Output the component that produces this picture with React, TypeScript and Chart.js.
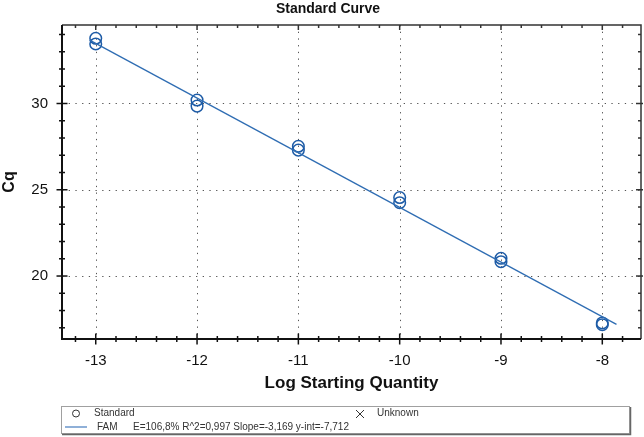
import React, { useEffect, useRef } from "react";
import { Chart, registerables } from "chart.js";

Chart.register(...registerables);

// Standard curve: Cq vs log starting quantity (duplicate standards per dilution)
const logQuantity: number[] = [-13, -13, -12, -12, -11, -11, -10, -10, -9, -9, -8, -8];
const cqValues: number[] = [33.78, 33.45, 30.2, 29.85, 27.52, 27.3, 24.55, 24.25, 21.03, 20.83, 17.28, 17.18];

// Fit reported by the instrument
const fitSlope = -3.169;
const fitIntercept = -7.712;
const fitRange: number[] = [-13.06, -7.86];

const xTickValues: number[] = [-13, -12, -11, -10, -9, -8];
const yTickValues: number[] = [20, 25, 30];
const xMinorStep = 0.2;
const yMinorStep = 1;

const chartTitle = "Standard Curve";
const xTitle = "Log Starting Quantity";
const yTitle = "Cq";
const legendStandard = "Standard";
const legendUnknown = "Unknown";
const legendSeries = "FAM";
const legendStats = "E=106,8% R^2=0,997 Slope=-3,169 y-int=-7,712";

const FONT = "'Liberation Sans', Arial, sans-serif";

const framePlugin = {
  id: "frame",
  beforeDatasetsDraw(chart: any) {
    const { ctx, chartArea: a, scales } = chart;
    const xs = scales.x;
    const ys = scales.y;
    ctx.save();
    // dotted major grid
    ctx.strokeStyle = "#555";
    ctx.lineWidth = 1;
    ctx.setLineDash([1.3, 5.4]);
    xTickValues.forEach((v) => {
      const px = Math.round(xs.getPixelForValue(v)) + 0.5;
      ctx.beginPath();
      ctx.moveTo(px, a.top);
      ctx.lineTo(px, a.bottom);
      ctx.stroke();
    });
    yTickValues.forEach((v) => {
      const py = Math.round(ys.getPixelForValue(v)) + 0.5;
      ctx.beginPath();
      ctx.moveTo(a.left, py);
      ctx.lineTo(a.right, py);
      ctx.stroke();
    });
    ctx.setLineDash([]);

    // frame
    ctx.strokeStyle = "#333";
    ctx.lineWidth = 1.5;
    ctx.beginPath();
    ctx.moveTo(a.left, a.top);
    ctx.lineTo(a.right, a.top);
    ctx.lineTo(a.right, a.bottom);
    ctx.stroke();
    ctx.strokeStyle = "#111";
    ctx.lineWidth = 2;
    ctx.beginPath();
    ctx.moveTo(a.left, a.top);
    ctx.lineTo(a.left, a.bottom);
    ctx.lineTo(a.right, a.bottom);
    ctx.stroke();

    // tick marks
    ctx.lineWidth = 1.5;
    const isMajor = (v: number, list: number[]) => list.some((t) => Math.abs(t - v) < 1e-6);
    for (let v = Math.ceil(xs.min / xMinorStep) * xMinorStep; v <= xs.max + 1e-9; v += xMinorStep) {
      const vv = Math.round(v * 10) / 10;
      const px = xs.getPixelForValue(vv);
      if (px <= a.left + 2 || px >= a.right - 2) continue;
      const major = isMajor(vv, xTickValues);
      const big = major ? 5.5 : 3;
      ctx.strokeStyle = "#111";
      ctx.beginPath();
      ctx.moveTo(px, a.bottom - big);
      ctx.lineTo(px, a.bottom + big);
      ctx.stroke();
      ctx.strokeStyle = "#333";
      ctx.beginPath();
      ctx.moveTo(px, a.top);
      ctx.lineTo(px, a.top + (major ? 5 : 3));
      ctx.stroke();
    }
    for (let v = Math.ceil(ys.min / yMinorStep) * yMinorStep; v <= ys.max + 1e-9; v += yMinorStep) {
      const py = ys.getPixelForValue(v);
      if (py <= a.top + 2 || py >= a.bottom - 2) continue;
      const major = isMajor(v, yTickValues);
      const big = major ? 5.5 : 3;
      ctx.strokeStyle = "#111";
      ctx.beginPath();
      ctx.moveTo(a.left - big, py);
      ctx.lineTo(a.left + big, py);
      ctx.stroke();
      ctx.strokeStyle = "#333";
      ctx.beginPath();
      ctx.moveTo(a.right - (major ? 5 : 3), py);
      ctx.lineTo(a.right + (major ? 2 : 0), py);
      ctx.stroke();
    }
    ctx.restore();
  },
  afterDraw(chart: any) {
    const { ctx } = chart;
    ctx.save();
    // chart title
    ctx.fillStyle = "#111";
    ctx.font = `bold 14px ${FONT}`;
    ctx.textAlign = "center";
    ctx.textBaseline = "middle";
    ctx.fillText(chartTitle, 328, 9);

    // legend box
    ctx.strokeStyle = "#a0a0a0";
    ctx.lineWidth = 1;
    ctx.strokeRect(61.5, 406.5, 568, 27);
    ctx.strokeStyle = "#666";
    ctx.lineWidth = 1.5;
    ctx.beginPath();
    ctx.moveTo(630.5, 407);
    ctx.lineTo(630.5, 434.5);
    ctx.lineTo(62, 434.5);
    ctx.stroke();

    ctx.font = `10px ${FONT}`;
    ctx.textAlign = "left";
    ctx.fillStyle = "#333";
    // standard marker
    ctx.strokeStyle = "#333";
    ctx.lineWidth = 1;
    ctx.beginPath();
    ctx.arc(76, 413.5, 3.5, 0, Math.PI * 2);
    ctx.stroke();
    ctx.fillText(legendStandard, 94, 413.5);
    // unknown marker
    ctx.beginPath();
    ctx.moveTo(356, 410);
    ctx.lineTo(364, 418);
    ctx.moveTo(364, 410);
    ctx.lineTo(356, 418);
    ctx.stroke();
    ctx.fillText(legendUnknown, 377, 413.5);
    // series line
    ctx.strokeStyle = "#8fb0d8";
    ctx.lineWidth = 2;
    ctx.beginPath();
    ctx.moveTo(65, 427);
    ctx.lineTo(87, 427);
    ctx.stroke();
    ctx.fillText(legendSeries, 97, 427);
    ctx.fillText(legendStats, 133, 427);
    ctx.restore();
  },
};

export default function App() {
  const canvasRef = useRef<HTMLCanvasElement | null>(null);

  useEffect(() => {
    if (!canvasRef.current) return;
    const points = logQuantity.map((x, i) => ({ x, y: cqValues[i] }));
    const fitLine = fitRange.map((x) => ({ x, y: fitSlope * x + fitIntercept }));

    const chart = new Chart(canvasRef.current, {
      type: "scatter",
      data: {
        datasets: [
          {
            type: "line",
            label: legendSeries,
            data: fitLine,
            borderColor: "#2f6db3",
            borderWidth: 1.3,
            pointRadius: 0,
            fill: false,
          },
          {
            label: legendStandard,
            data: points,
            pointStyle: "circle",
            pointRadius: 5.8,
            borderColor: "#1d5ba6",
            backgroundColor: "rgba(0,0,0,0)",
            borderWidth: 1.5,
          },
        ],
      },
      options: {
        responsive: false,
        animation: false,
        devicePixelRatio: 1,
        layout: { autoPadding: false, padding: { left: 0, top: 25, right: 3, bottom: 0 } },
        plugins: {
          legend: { display: false },
          title: { display: false },
          tooltip: { enabled: false },
        },
        scales: {
          x: {
            type: "linear",
            min: -13.333,
            max: -7.618,
            grid: { display: false, drawTicks: false },
            border: { display: false },
            afterBuildTicks: (s: any) => {
              s.ticks = xTickValues.map((value) => ({ value }));
            },
            afterFit: (s: any) => {
              s.height = 98;
              s.paddingLeft = 0;
              s.paddingRight = 0;
            },
            ticks: {
              padding: 13,
              color: "#111",
              font: { family: FONT, size: 15 },
              callback: (v: any) => String(v),
            },
            title: {
              display: true,
              text: xTitle,
              color: "#111",
              font: { family: FONT, size: 17, weight: "bold" },
              padding: { top: 0, bottom: 43.8 },
            },
          },
          y: {
            type: "linear",
            min: 16.35,
            max: 34.55,
            grid: { display: false, drawTicks: false },
            border: { display: false },
            afterBuildTicks: (s: any) => {
              s.ticks = yTickValues.map((value) => ({ value }));
            },
            afterFit: (s: any) => {
              s.width = 62;
              s.paddingTop = 0;
              s.paddingBottom = 0;
            },
            ticks: {
              padding: 14,
              color: "#111",
              font: { family: FONT, size: 15 },
              callback: (v: any) => String(v),
            },
            title: {
              display: true,
              text: yTitle,
              color: "#111",
              font: { family: FONT, size: 16, weight: "bold" },
              padding: { top: 0, bottom: 0 },
            },
          },
        },
      },
      plugins: [framePlugin],
    } as any);
    return () => chart.destroy();
  }, []);

  return (
    <div style={{ position: "absolute", left: 0, top: 0, width: 644, height: 437, background: "#fff" }}>
      <canvas ref={canvasRef} width={644} height={437} style={{ display: "block" }} />
    </div>
  );
}
